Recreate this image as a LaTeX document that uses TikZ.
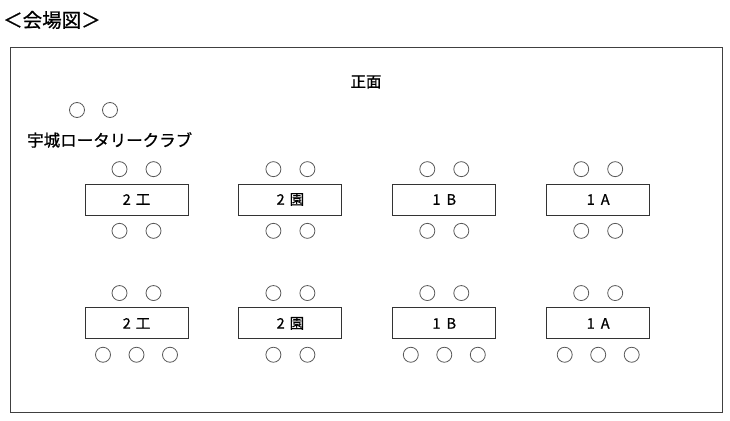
\documentclass[tikz,border=0pt]{standalone}
\usepackage{fontspec}
\setmainfont{Noto Sans CJK JP}[UprightFeatures={FakeBold=0.8}]
\usetikzlibrary{positioning}

\begin{document}
\begin{tikzpicture}[
    x=1pt, y=-1pt,
    tablebox/.style={draw=black!80, line width=0.9pt, rectangle, minimum width=103pt, minimum height=31pt, inner sep=0pt, font=\fontsize{14.5}{16}\selectfont},
    seat/.style={draw=black!65, circle, minimum size=15pt, inner sep=0pt, line width=0.8pt},
    caption/.style={inner sep=0pt, font=\fontsize{15.5}{18}\selectfont}
]
  \useasboundingbox (0,0) rectangle (730,420);

  % Title and hall frame
  \node (title) [caption, anchor=west, font=\fontsize{19.5}{22}\selectfont] at (3,20) {＜会場図＞};
  \draw [draw=black!75, line width=1pt] (10.5,48) rectangle (722.5,412.5);
  \node (front) [caption] at (366,82) {正面};

  % Guests
  \node (guests) [caption, anchor=west, font=\fontsize{16.5}{18}\selectfont] at (27,140) {宇城ロータリークラブ};
  \node (g1) [seat] at (77,110) {};
  \node (g2) [seat] at (110,110) {};

  % Tables Row 1
  \node (t1) [tablebox] at (136.5,199.5) {2\hspace{5pt}工};
  \node (t2) [tablebox, right=50pt of t1] {2\hspace{5pt}園};
  \node (t3) [tablebox, right=50pt of t2] {1\hspace{6pt}B};
  \node (t4) [tablebox, right=50pt of t3] {1\hspace{6pt}A};

  % Tables Row 2
  \node (t5) [tablebox, below=92pt of t1] {2\hspace{5pt}工};
  \node (t6) [tablebox, below=92pt of t2] {2\hspace{5pt}園};
  \node (t7) [tablebox, below=92pt of t3] {1\hspace{6pt}B};
  \node (t8) [tablebox, below=92pt of t4] {1\hspace{6pt}A};

  % Seats above every table
  \foreach \t in {t1,t2,t3,t4,t5,t6,t7,t8}{
    \node (\t-nw) [seat, above=6.5pt of \t.north, xshift=-17pt] {};
    \node (\t-ne) [seat, above=6.5pt of \t.north, xshift=17pt] {};
  }
  % Seats below, two each
  \foreach \t in {t1,t2,t3,t4,t6}{
    \node (\t-sw) [seat, below=7.5pt of \t.south, xshift=-17pt] {};
    \node (\t-se) [seat, below=7.5pt of \t.south, xshift=17pt] {};
  }
  % Seats below, three each
  \foreach \t in {t5,t7,t8}{
    \node (\t-sw) [seat, below=7.5pt of \t.south, xshift=-33.5pt] {};
    \node (\t-s) [seat, below=7.5pt of \t.south] {};
    \node (\t-se) [seat, below=7.5pt of \t.south, xshift=33.5pt] {};
  }
\end{tikzpicture}
\end{document}
